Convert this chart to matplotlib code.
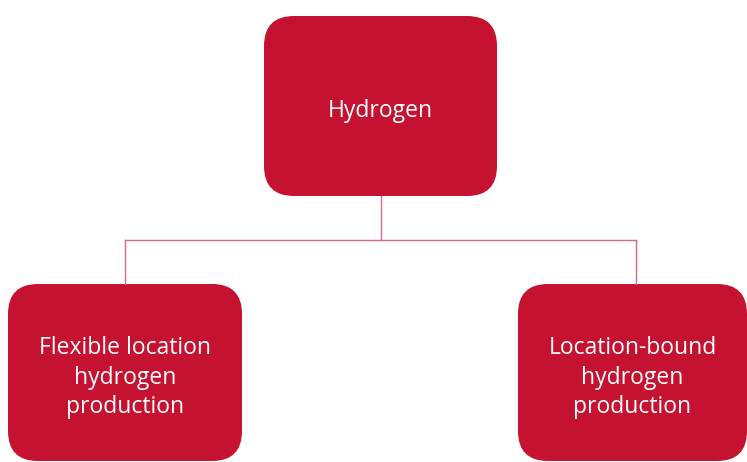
import matplotlib.pyplot as plt
from matplotlib.patches import FancyBboxPatch

# node labels
root_label = "Hydrogen"
child_labels = ["Flexible location\nhydrogen\nproduction",
                "Location-bound\nhydrogen\nproduction"]

BOX_COLOR = "#C41230"
LINE_COLOR = "#D46A80"

W, H = 747, 462

fig = plt.figure(figsize=(W / 100, H / 100), dpi=100)
ax = fig.add_axes([0, 0, 1, 1])
ax.set_xlim(0, W)
ax.set_ylim(H, 0)
ax.axis("off")


def box(x0, y0, x1, y1, label, r=30):
    p = FancyBboxPatch((x0 + r, y0 + r), (x1 - x0) - 2 * r, (y1 - y0) - 2 * r,
                       boxstyle=f"round,pad={r}", fc=BOX_COLOR, ec="none",
                       mutation_aspect=1)
    ax.add_patch(p)
    ax.text((x0 + x1) / 2, (y0 + y1) / 2 + 5, label, color="white",
            ha="center", va="center", fontsize=16.5, family="Open Sans",
            linespacing=1.3)


# root box
box(264, 16, 497, 196, root_label)

# children
box(8, 284, 242, 461, child_labels[0])
box(518, 284, 747, 461, child_labels[1])

# connectors
ax.plot([381, 381], [196, 240], color=LINE_COLOR, lw=1)
ax.plot([125, 636], [240, 240], color=LINE_COLOR, lw=1)
ax.plot([125, 125], [240, 284], color=LINE_COLOR, lw=1)
ax.plot([636, 636], [240, 284], color=LINE_COLOR, lw=1)

fig.savefig("out.png", dpi=100)
